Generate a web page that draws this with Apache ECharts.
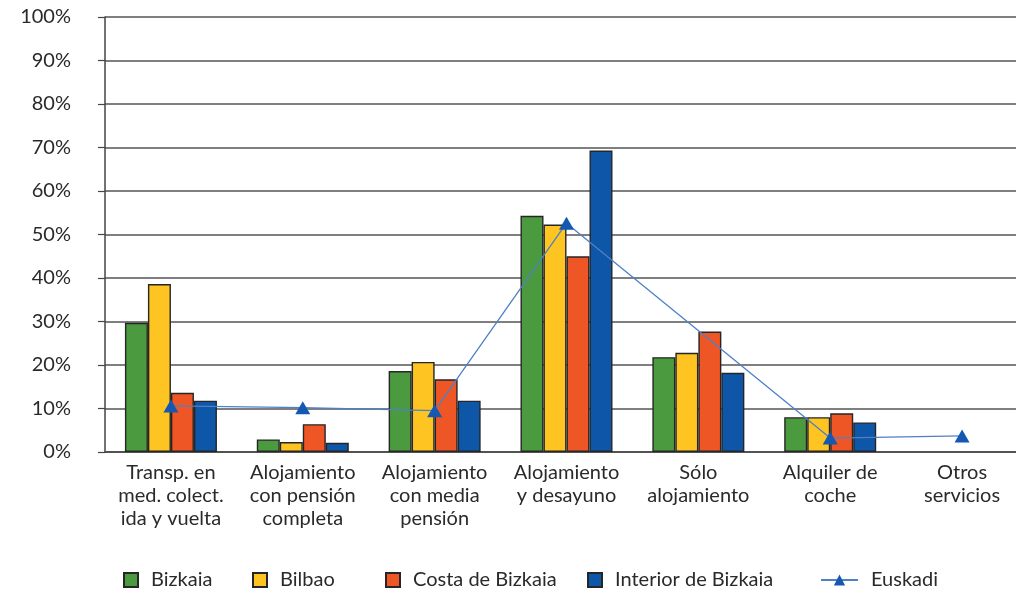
<!DOCTYPE html>
<html>
<head>
<meta charset="utf-8">
<script src="https://cdn.jsdelivr.net/npm/echarts@6/dist/echarts.min.js"></script>
<style>
  html, body { margin: 0; padding: 0; background: #fff; overflow: hidden; }
  #chart { width: 1030px; height: 599px; }
</style>
</head>
<body>
<div id="chart"></div>
<script>
var categories = [
  'Transp. en\nmed. colect.\nida y vuelta',
  'Alojamiento\ncon pensión\ncompleta',
  'Alojamiento\ncon media\npensión',
  'Alojamiento\ny desayuno',
  'Sólo\nalojamiento',
  'Alquiler de\ncoche',
  'Otros\nservicios'
]
var bizkaia = [29.7, 2.9, 18.6, 54.3, 21.8, 8.0, null]
var bilbao = [38.6, 2.3, 20.7, 52.3, 22.8, 8.0, null]
var costa = [13.6, 6.4, 16.7, 45.0, 27.7, 8.9, null]
var interior = [11.8, 2.1, 11.8, 69.3, 18.2, 6.8, null]
var euskadi = [10.6, 10.2, 9.5, 52.6, null, 3.2, 3.7]

var fontFam = 'Lato, "Open Sans", sans-serif'
var txt = '#2a2a2a'

function barSeries (name, data, color) {
  return {
    name: name,
    type: 'bar',
    data: data,
    barWidth: 23,
    barGap: '0%',
    itemStyle: { color: color, borderColor: '#262626', borderWidth: 1.4 }
  }
}

function legendAt (name, left, w, icon) {
  var lg = {
    data: [name],
    left: left,
    top: 570,
    padding: 0,
    itemWidth: w,
    itemHeight: 14,
    textStyle: { fontFamily: fontFam, fontSize: 20, color: txt, padding: [0, 0, 0, 8] }
  }
  if (icon) lg.icon = icon
  return lg
}

var chart = echarts.init(document.getElementById('chart'), null, { renderer: 'canvas' })
chart.setOption({
  backgroundColor: '#fff',
  animation: false,
  grid: { left: 105, top: 17, right: 2, height: 435 },
  legend: [
    legendAt('Bizkaia', 123, 14, 'rect'),
    legendAt('Bilbao', 252, 14, 'rect'),
    legendAt('Costa de Bizkaia', 385, 14, 'rect'),
    legendAt('Interior de Bizkaia', 587, 14, 'rect'),
    legendAt('Euskadi', 820, 37)
  ],
  xAxis: {
    type: 'category',
    data: categories,
    axisLine: { lineStyle: { color: '#444', width: 1.5 } },
    axisTick: { show: false },
    axisLabel: { interval: 0, margin: 9, fontFamily: fontFam, fontSize: 20, lineHeight: 23, color: txt }
  },
  yAxis: {
    type: 'value',
    min: 0,
    max: 100,
    interval: 10,
    axisLine: { show: true, lineStyle: { color: '#444', width: 1.5 } },
    axisTick: { show: true, length: 7, lineStyle: { color: '#444', width: 1.2 } },
    axisLabel: { margin: 34, fontFamily: fontFam, fontSize: 20, color: txt, formatter: '{value}%' },
    splitLine: { lineStyle: { color: '#555', width: 1.5 } }
  },
  series: [
    barSeries('Bizkaia', bizkaia, '#4b9a3f'),
    barSeries('Bilbao', bilbao, '#fdc422'),
    barSeries('Costa de Bizkaia', costa, '#ef5626'),
    barSeries('Interior de Bizkaia', interior, '#0d56a8'),
    {
      name: 'Euskadi',
      type: 'line',
      data: euskadi,
      connectNulls: true,
      symbol: 'triangle',
      symbolSize: [15, 13],
      lineStyle: { color: '#4f80c6', width: 1.3 },
      itemStyle: { color: '#1458b2' },
      z: 5
    }
  ]
})
</script>
</body>
</html>
